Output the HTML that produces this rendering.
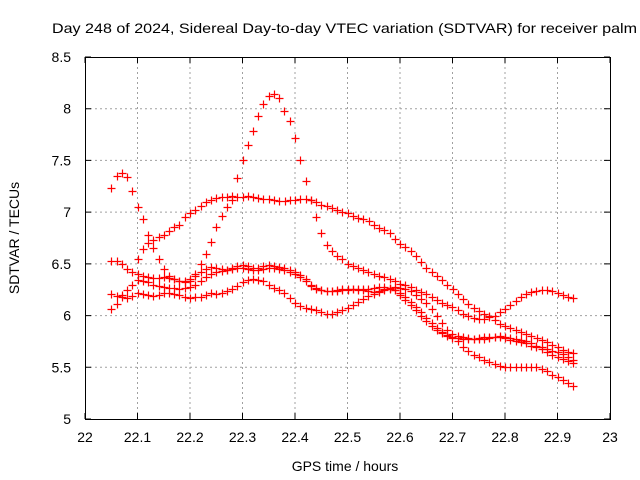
<!DOCTYPE html>
<html><head><meta charset="utf-8"><style>
html,body{margin:0;padding:0;background:#fff;}
svg{display:block;font-family:"Liberation Sans",sans-serif;}
</style></head><body>
<svg id="chart" width="640" height="480" viewBox="0 0 640 480" xmlns="http://www.w3.org/2000/svg">
<rect width="640" height="480" fill="#fff"/>
<text x="52" y="33" font-size="14" textLength="585" lengthAdjust="spacingAndGlyphs">Day 248 of 2024, Sidereal Day-to-day VTEC variation (SDTVAR) for receiver palm</text>
<g id="grid"></g>
<g id="axes"></g>
<g id="series"></g>
<text x="345" y="471" font-size="14" text-anchor="middle">GPS time / hours</text>
<text x="0" y="0" font-size="14" text-anchor="middle" transform="translate(19,238) rotate(-90)">SDTVAR / TECUs</text>
</svg>
<script>
const xTicks = [22, 22.1, 22.2, 22.3, 22.4, 22.5, 22.6, 22.7, 22.8, 22.9, 23];
const xTickLabels = ["22","22.1","22.2","22.3","22.4","22.5","22.6","22.7","22.8","22.9","23"];
const yTicks = [5, 5.5, 6, 6.5, 7, 7.5, 8, 8.5];
const yTickLabels = ["5","5.5","6","6.5","7","7.5","8","8.5"];
const sampleStep = 0.01;
const seriesStarts = [22.10, 22.05, 22.05, 22.05, 22.05];
const seriesT = [6.55,6.64,6.70,6.73,6.76,6.78,6.82,6.86,6.88,6.95,
6.99,7.02,7.06,7.10,7.12,7.14,7.15,7.15,7.16,7.15,
7.15,7.16,7.15,7.14,7.13,7.13,7.12,7.11,7.11,7.12,
7.12,7.13,7.13,7.12,7.10,7.07,7.06,7.04,7.02,7.00,
6.99,6.96,6.94,6.93,6.91,6.88,6.85,6.83,6.80,6.74,
6.69,6.66,6.62,6.58,6.52,6.46,6.42,6.38,6.34,6.30,
6.26,6.21,6.16,6.11,6.07,6.04,6.02,6.00,5.96,5.92,
5.90,5.88,5.86,5.84,5.82,5.80,5.78,5.76,5.74,5.72,
5.70,5.67,5.65,5.64];
const seriesP = [7.23,7.35,7.38,7.34,7.20,
7.05,6.93,6.78,6.65,6.55,6.45,6.38,6.35,6.33,6.32,
6.33,6.40,6.50,6.60,6.71,6.86,6.96,7.05,7.12,7.33,
7.50,7.65,7.78,7.93,8.05,8.12,8.14,8.10,7.98,7.88,
7.72,7.50,7.30,7.12,6.95,6.80,6.68,6.62,6.58,6.55,
6.50,6.48,6.46,6.44,6.42,6.40,6.38,6.37,6.35,6.33,
6.31,6.30,6.28,6.25,6.23,6.21,6.18,6.15,6.12,6.10,
6.08,6.05,6.02,6.00,5.98,5.97,5.97,5.99,6.00,6.03,
6.06,6.10,6.14,6.18,6.21,6.23,6.24,6.25,6.25,6.24,
6.22,6.20,6.18,6.17];
const seriesB = [6.53,6.53,6.50,6.45,6.42,
6.40,6.38,6.37,6.36,6.36,6.37,6.36,6.35,6.33,6.33,
6.35,6.38,6.42,6.45,6.47,6.46,6.45,6.44,6.46,6.48,
6.49,6.48,6.46,6.46,6.48,6.49,6.48,6.47,6.46,6.44,
6.42,6.39,6.35,6.30,6.27,6.25,6.24,6.24,6.24,6.25,
6.25,6.26,6.25,6.25,6.24,6.23,6.24,6.26,6.27,6.28,
6.27,6.26,6.24,6.20,6.16,6.12,6.06,6.00,5.93,5.86,
5.82,5.80,5.79,5.78,5.77,5.77,5.77,5.78,5.79,5.79,
5.78,5.76,5.75,5.74,5.73,5.71,5.70,5.68,5.65,5.62,
5.60,5.58,5.56,5.54];
const seriesC = [6.21,6.19,6.18,6.17,6.19,
6.22,6.21,6.20,6.19,6.20,6.22,6.22,6.21,6.20,6.18,
6.17,6.18,6.18,6.20,6.22,6.21,6.22,6.24,6.26,6.29,
6.32,6.34,6.35,6.34,6.33,6.30,6.27,6.25,6.22,6.17,
6.12,6.09,6.07,6.06,6.05,6.03,6.02,6.02,6.03,6.05,
6.07,6.10,6.13,6.16,6.19,6.21,6.23,6.25,6.26,6.25,
6.20,6.15,6.10,6.05,6.00,5.95,5.90,5.86,5.83,5.80,
5.78,5.75,5.70,5.66,5.62,5.60,5.57,5.55,5.53,5.51,
5.50,5.50,5.50,5.50,5.50,5.50,5.50,5.48,5.46,5.43,
5.41,5.38,5.35,5.32];
const seriesD = [6.06,6.11,6.20,6.25,6.30,
6.34,6.33,6.32,6.30,6.29,6.28,6.27,6.27,6.26,6.27,
6.28,6.30,6.33,6.37,6.40,6.42,6.43,6.44,6.45,6.46,
6.46,6.45,6.44,6.44,6.45,6.46,6.46,6.45,6.44,6.42,
6.40,6.37,6.33,6.29,6.26,6.25,6.24,6.24,6.25,6.26,
6.26,6.26,6.26,6.26,6.26,6.27,6.28,6.28,6.27,6.25,
6.22,6.18,6.13,6.08,6.03,5.98,5.93,5.88,5.84,5.81,
5.79,5.78,5.77,5.77,5.77,5.78,5.79,5.79,5.79,5.80,
5.79,5.78,5.77,5.76,5.75,5.73,5.71,5.70,5.68,5.66,
5.65,5.63,5.60,5.57];
const allSeries = [seriesT, seriesP, seriesB, seriesC, seriesD];

const NS = "http://www.w3.org/2000/svg";
const L = 85, R = 610, T = 57, B = 419;
const xMin = 22, xMax = 23, yMin = 5, yMax = 8.5;
function xScale(v){ return L + (v - xMin) / (xMax - xMin) * (R - L); }
function yScale(v){ return B - (v - yMin) / (yMax - yMin) * (B - T); }
function mk(tag, attrs, parent){ const e = document.createElementNS(NS, tag); for (const k in attrs) e.setAttribute(k, attrs[k]); parent.appendChild(e); return e; }

const grid = document.getElementById('grid');
const axes = document.getElementById('axes');
const ser = document.getElementById('series');

xTicks.forEach((t, i) => {
  const x = xScale(t);
  if (i > 0 && i < xTicks.length - 1) {
    const g = mk('line', {x1:x, x2:x, y1:T, y2:B, stroke:'#a0a0a0', 'stroke-width':1, 'stroke-dasharray':'2,3'}, grid);
    
    
  }
  const tk = mk('path', {d:`M${x},${B}v-6M${x},${T}v6`, stroke:'#000', 'stroke-width':1}, axes);
  
  
  const lb = mk('text', {x:x, y:442, 'font-size':14, 'text-anchor':'middle'}, axes);
  lb.textContent = xTickLabels[i];
  
  
});
yTicks.forEach((t, i) => {
  const y = yScale(t);
  if (i > 0 && i < yTicks.length - 1) {
    const g = mk('line', {x1:L, x2:R, y1:y, y2:y, stroke:'#a0a0a0', 'stroke-width':1, 'stroke-dasharray':'2,3'}, grid);
    
    
  }
  const tk = mk('path', {d:`M${L},${y}h6M${R},${y}h-6`, stroke:'#000', 'stroke-width':1}, axes);
  
  
  const lb = mk('text', {x:71, y:y + 5, 'font-size':14, 'text-anchor':'end'}, axes);
  lb.textContent = yTickLabels[i];
  
  
});
const frame = mk('rect', {x:L + 0.5, y:T + 0.5, width:R - L, height:B - T, fill:'none', stroke:'#000', 'stroke-width':1}, axes);



allSeries.forEach((vals, si) => {
  const g = mk('g', {}, ser);
  
  
  let d = '';
  vals.forEach((v, i) => {
    const t = seriesStarts[si] + i * sampleStep;
    const x = Math.round(xScale(t)) + 0.5, y = Math.round(yScale(v)) + 0.5;
    d += `M${x - 4},${y}h8M${x},${y - 4}v8`;
  });
  const p = mk('path', {d:d, stroke:'#ff0000', 'stroke-width':1.2, fill:'none'}, g);
  
  
});
</script>
</body></html>
